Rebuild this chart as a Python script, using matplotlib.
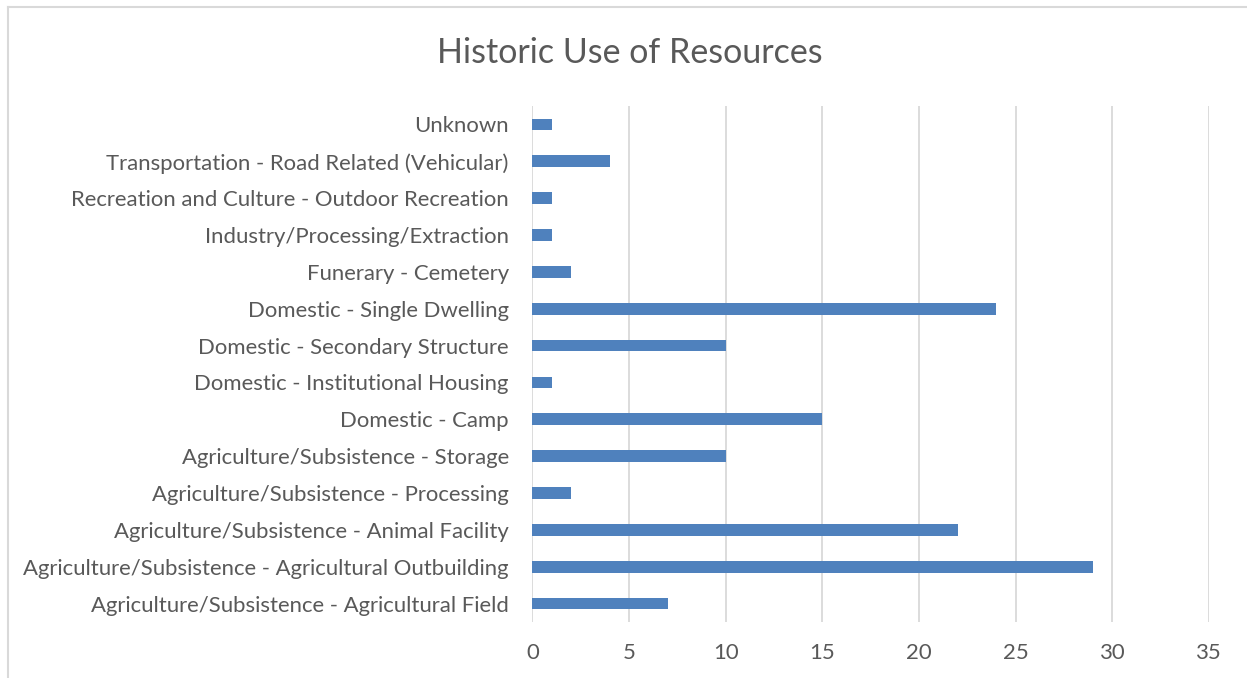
import matplotlib.pyplot as plt
from matplotlib.lines import Line2D

# data, bottom to top as drawn
categories = [
    "Agriculture/Subsistence - Agricultural Field",
    "Agriculture/Subsistence - Agricultural Outbuilding",
    "Agriculture/Subsistence - Animal Facility",
    "Agriculture/Subsistence - Processing",
    "Agriculture/Subsistence - Storage",
    "Domestic - Camp",
    "Domestic - Institutional Housing",
    "Domestic - Secondary Structure",
    "Domestic - Single Dwelling",
    "Funerary - Cemetery",
    "Industry/Processing/Extraction",
    "Recreation and Culture - Outdoor Recreation",
    "Transportation - Road Related (Vehicular)",
    "Unknown",
]
counts = [7, 29, 22, 2, 10, 15, 1, 10, 24, 2, 1, 1, 4, 1]
x_ticks = [0, 5, 10, 15, 20, 25, 30, 35]

_BAR = "#4F81BD"
_GRID = "#D9D9D9"
_TEXT = "#595959"
_FRAME = "#D9D9D9"

plt.rcParams["font.family"] = ["Lato", "DejaVu Sans"]

fig = plt.figure(figsize=(12.47, 6.78), dpi=100)
ax = fig.add_axes([0.427, 0.0826, 0.5425, 0.761])

ypos = range(len(categories))
ax.barh(ypos, counts, height=0.32, color=_BAR, zorder=3)

ax.set_xlim(0, 35)
ax.set_ylim(-0.5, len(categories) - 0.5)
ax.set_xticks(x_ticks)
ax.set_yticks(list(ypos))
ax.set_yticklabels(categories)

ax.grid(axis="x", color=_GRID, linewidth=1.3, zorder=0)
for spine in ax.spines.values():
    spine.set_visible(False)
ax.tick_params(length=0, colors=_TEXT, labelsize=15.9)
ax.tick_params(axis="y", pad=17)
ax.tick_params(axis="x", pad=15)

fig.text(0.505, 0.922, "Historic Use of Resources", ha="center", va="center",
         fontsize=24.5, color=_TEXT)

# chart frame (left and top edges visible in the picture)
fig.add_artist(Line2D([8 / 1247, 8 / 1247], [0, 1 - 7 / 678], color=_FRAME, lw=1.5))
fig.add_artist(Line2D([8 / 1247, 1], [1 - 7 / 678, 1 - 7 / 678], color=_FRAME, lw=1.5))

fig.savefig("out.png", dpi=100)
